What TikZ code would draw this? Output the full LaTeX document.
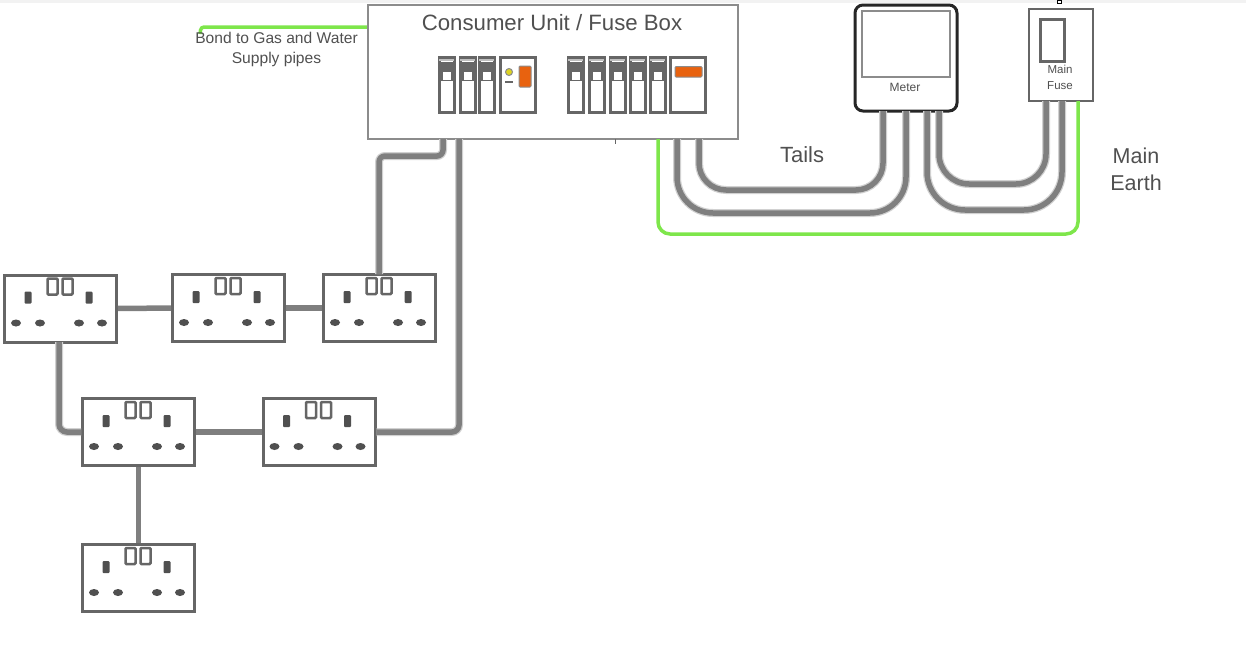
\documentclass[tikz,border=0pt]{standalone}
\usepackage{fontspec}
\setmainfont{Liberation Sans}
\usetikzlibrary{positioning,calc,shapes.geometric}
\definecolor{wiregrey}{HTML}{7F7F7F}
\definecolor{boxgrey}{HTML}{8C8C8C}
\definecolor{darkgrey}{HTML}{666666}
\definecolor{labelgrey}{HTML}{505050}
\definecolor{earthgreen}{HTML}{7EE64B}
\definecolor{switchorange}{HTML}{E8620F}
\tikzset{
  socket/.style={draw=darkgrey, line width=3pt, fill=white, minimum width=112pt, minimum height=67pt, inner sep=0pt},
  hole/.style={fill=labelgrey, ellipse, minimum width=10pt, minimum height=7pt, inner sep=0pt},
  breaker/.style={draw=darkgrey, line width=3pt, fill=white, minimum width=15pt, minimum height=55pt, inner sep=0pt},
  bigbreaker/.style={breaker, minimum width=35pt},
  wire/.style={draw=wiregrey, line width=5.5pt, preaction={draw=black!18, line width=8pt}},
  earth/.style={draw=earthgreen, line width=3.5pt},
  lbl/.style={text=labelgrey, align=center, inner sep=0pt},
}
\begin{document}
\begin{tikzpicture}[x=1pt, y=-1pt]
        \useasboundingbox (0,0) rectangle (1246,664);
        \fill[black!5] (0,0) rectangle (1246,3);
        \draw[black, line width=0.8pt, fill=white] (1057,0) rectangle (1061,3);

        % main boxes
        \node[draw=boxgrey, line width=2.5pt, fill=white, minimum width=370pt, minimum height=134pt, inner sep=0pt] (cu) at (553,72) {};
        \node[draw=black!85, line width=3pt, fill=white, rounded corners=8pt, minimum width=102pt, minimum height=106pt, inner sep=0pt] (meter) at (906,58) {};
        \node[draw=darkgrey, line width=2.5pt, fill=white, minimum width=64pt, minimum height=92pt, inner sep=0pt] (fuse) at (1061,55) {};
        \node[draw=boxgrey, line width=2.5pt, minimum width=88pt, minimum height=66pt, inner sep=0pt] (dial) at (906,44) {};
        \node[draw=darkgrey, line width=3pt, minimum width=24pt, minimum height=42pt, inner sep=0pt] (cartridge) at (1052,40) {};

        % labels
        \node[lbl, font=\fontsize{22.2}{26}\selectfont] (cutitle) at (552,23) {Consumer Unit / Fuse Box};
        \node[lbl, font=\fontsize{12}{14}\selectfont] (meterlbl) at (905,87) {Meter};
        \node[lbl, font=\fontsize{11.5}{15.5}\selectfont] (fuselbl) at (1060,77.5) {Main\\Fuse};
        \node[lbl, font=\fontsize{22}{26}\selectfont] (tails) at (802,154.5) {Tails};
        \node[lbl, font=\fontsize{21.5}{27}\selectfont] (mainearth) at (1136,169) {Main\\Earth};

        % breakers
        \foreach \x in {438,459,478,567,588,609,629,649} {
          \node[breaker] (mcb\x) at (\x+8.5,85) {};
          \fill[darkgrey] (\x+2,62) rectangle (\x+15,81);
          \fill[white] (\x+4.5,72) rectangle (\x+12.5,80);
          \draw[black!25, line width=1.5pt] (\x+1,60) -- (\x+16,60);
        }
        \node[bigbreaker] (rcd) at (517.5,85) {};
        \node[bigbreaker] (isolator) at (687.5,85) {};
        \fill[switchorange, draw=boxgrey, line width=1pt, rounded corners=1pt] (519,66) rectangle (531,87);
        \fill[switchorange, draw=boxgrey, line width=1pt, rounded corners=1pt] (675,66.5) rectangle (702,77);
        \fill[yellow!85!black, draw=boxgrey, line width=1pt] (509,72) circle (3.5);
        \fill[darkgrey] (505,81) rectangle (513,83);

        % sockets
        \node[socket] (s1) at (60.5,308.5) {};
        \node[socket] (s2) at (228.5,308) {};
        \node[socket] (s3) at (379.5,308) {};
        \node[socket] (s4) at (138.5,432) {};
        \node[socket] (s5) at (319,432) {};
        \node[socket] (s6) at (138.5,578) {};

        \foreach \s in {s1,s2,s3,s4,s5,s6} {
          \begin{scope}[shift={(\s.center)}]
            \foreach \x in {-8,7}
              \draw[darkgrey, line width=2.5pt, fill=white, rounded corners=1pt] (\x-5,-30) rectangle (\x+5,-14);
            \foreach \x in {-32.5,28.5}
              \fill[labelgrey, rounded corners=1pt] (\x-3.5,-17) rectangle (\x+3.5,-5);
            \foreach \x in {-44.5,-20.5,18.5,41.5}
              \node[hole] at (\x,14.5) {};
          \end{scope}
        }

        % wire ends
        \coordinate (cuA) at (443,139);
        \coordinate (cuB) at (459,139);
        \coordinate (cuE) at (658,139);
        \coordinate (cuT) at (677,139);
        \coordinate (cuN) at (699,139);
        \coordinate (cuTick) at (615,139);
        \coordinate (mA) at (883,111);
        \coordinate (mB) at (906,111);
        \coordinate (mC) at (927,111);
        \coordinate (mD) at (939,111);
        \coordinate (fA) at (1046,101);
        \coordinate (fB) at (1062,101);
        \coordinate (fE) at (1078,101);
        \coordinate (s3top) at (379,274);
        \coordinate (bondend) at (200,34);

        % ring circuit
        \path[wire]
        (s1) edge (s2)
        (s2) edge (s3)
        (s4) edge (s5)
        (s4) edge (s6);
        \draw[wire, rounded corners=6pt] (cuA) -- ++(0,17) -- (379,156) -- (s3top);
        \draw[wire, rounded corners=7pt] (cuB) -- (459,432) -- (s5.east);
        \draw[wire, rounded corners=8pt] (59,342) -- (59,432) -- (s4.west);

        % tails
        \draw[wire, rounded corners=27pt] (cuN) -- (699,190) -- (883,190) -- (mA);
        \draw[wire, rounded corners=36pt] (cuT) -- (677,213) -- (906,213) -- (mB);
        \draw[wire, rounded corners=38pt] (mC) -- (927,210) -- (1062,210) -- (fB);
        \draw[wire, rounded corners=30pt] (mD) -- (939,184) -- (1046,184) -- (fA);
        \draw[darkgrey, line width=1pt] (cuTick) -- ++(0,5);

        % earth
        \draw[earth, rounded corners=12pt] (cuE) -- (658,234) -- (1078,234) -- (fE);
        \draw[earth, rounded corners=3pt] (cu.west |- 0,27) -- (201,27) -- (bondend);
        \node[lbl, font=\fontsize{15.6}{20}\selectfont] (bondlbl) at (276.5,49.5) {Bond to Gas and Water\\Supply pipes};
      \end{tikzpicture}
\end{document}
